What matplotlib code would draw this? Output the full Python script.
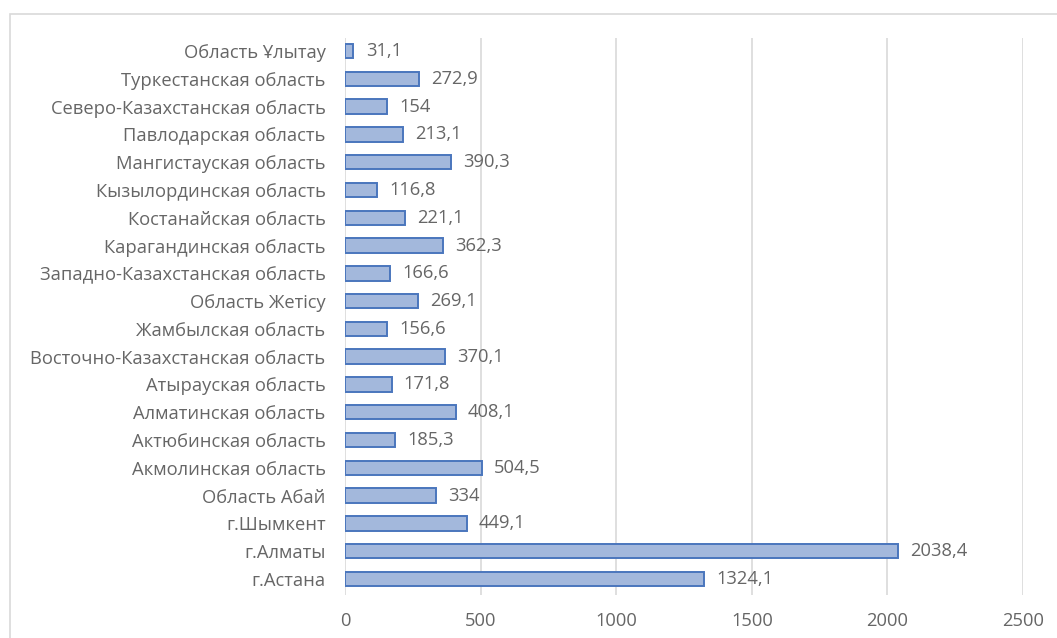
import matplotlib
matplotlib.use("Agg")
import matplotlib.pyplot as plt
from matplotlib.patches import Rectangle

categories = [
    "г.Астана", "г.Алматы", "г.Шымкент", "Область Абай", "Акмолинская область",
    "Актюбинская область", "Алматинская область", "Атырауская область",
    "Восточно-Казахстанская область", "Жамбылская область", "Область Жетісу",
    "Западно-Казахстанская область", "Карагандинская область", "Костанайская область",
    "Кызылординская область", "Мангистауская область", "Павлодарская область",
    "Северо-Казахстанская область", "Туркестанская область", "Область Ұлытау",
]
values = [1324.1, 2038.4, 449.1, 334, 504.5, 185.3, 408.1, 171.8, 370.1, 156.6,
          269.1, 166.6, 362.3, 221.1, 116.8, 390.3, 213.1, 154, 272.9, 31.1]
xticks = [0, 500, 1000, 1500, 2000, 2500]

plt.rcParams['font.family'] = ['Open Sans', 'DejaVu Sans']
gray = '#666666'
fs = 13.2

fig = plt.figure(figsize=(10.57, 6.38), dpi=100)
fig.patches.append(Rectangle((10/1057, -0.1), 1.2, 1 - 14/638 + 0.1,
                             transform=fig.transFigure, fill=False,
                             edgecolor='#d9d9d9', linewidth=1.2))
ax = fig.add_axes([345/1057, 1 - 595/638, (1023 - 345)/1057, (595 - 38)/638])

y = list(range(len(categories)))
ax.barh(y, values, height=0.52, color='#a3b8dc', edgecolor='#4a76bd', linewidth=1.4, zorder=3)

for yi, v in zip(y, values):
    s = (f"{v:.1f}" if v != int(v) else f"{int(v)}").replace('.', ',')
    ax.text(v + 45, yi, s, va='center', ha='left', fontsize=fs, color=gray)

ax.set_xlim(0, 2500)
ax.set_ylim(-0.58, 19.47)
ax.set_xticks(xticks)
ax.set_xticklabels([str(t) for t in xticks], fontsize=fs, color=gray)
ax.set_yticks(y)
ax.set_yticklabels(categories, fontsize=fs, color=gray)
ax.tick_params(axis='both', length=0)
ax.tick_params(axis='x', pad=12)
ax.tick_params(axis='y', pad=14)
ax.grid(axis='x', color='#d9d9d9', linewidth=1.2, zorder=0)
for sp in ax.spines.values():
    sp.set_visible(False)

fig.savefig("out.png", dpi=100)
